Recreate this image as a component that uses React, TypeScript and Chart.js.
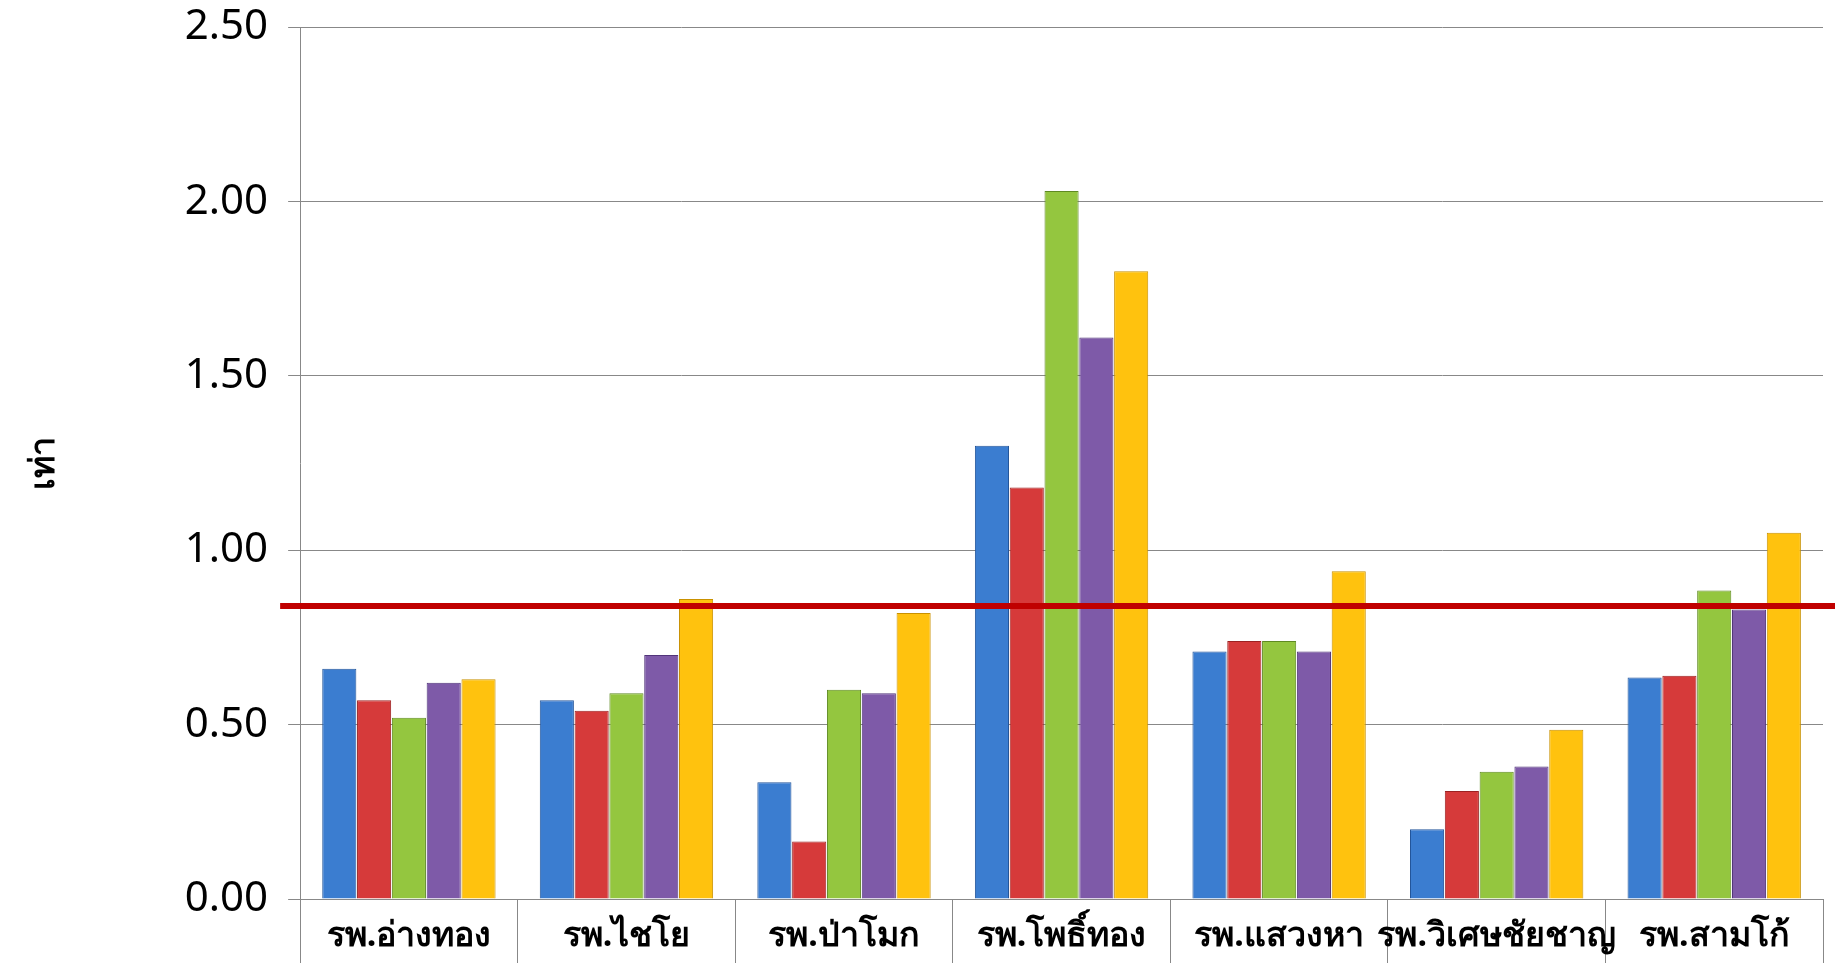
import { useEffect, useRef } from 'react';
import { Chart, registerables } from 'chart.js';

Chart.register(...registerables);

const categories = ['รพ.อ่างทอง', 'รพ.ไชโย', 'รพ.ป่าโมก', 'รพ.โพธิ์ทอง', 'รพ.แสวงหา', 'รพ.วิเศษชัยชาญ', 'รพ.สามโก้'];
const series1 = [0.66, 0.57, 0.335, 1.3, 0.71, 0.2, 0.635];
const series2 = [0.57, 0.54, 0.165, 1.18, 0.74, 0.31, 0.64];
const series3 = [0.52, 0.59, 0.6, 2.03, 0.74, 0.365, 0.885];
const series4 = [0.62, 0.7, 0.59, 1.61, 0.71, 0.38, 0.83];
const series5 = [0.63, 0.86, 0.82, 1.8, 0.94, 0.485, 1.05];
const targetLine = 0.84;

const colors = ['#3b7dd0', '#d63a3a', '#94c63f', '#7e5aa8', '#ffc20e'];
const borders = ['#24569a', '#9c2222', '#5f8a22', '#52357a', '#c99100'];

const FONT = '"Noto Sans", "DejaVu Sans", sans-serif';
const SHIFT = 18;

const refLine = {
  id: 'refLine',
  afterDatasetsDraw(chart: any) {
    const y = chart.scales.y.getPixelForValue(targetLine);
    const ctx = chart.ctx;
    ctx.save();
    ctx.strokeStyle = '#c00000';
    ctx.lineWidth = 6;
    ctx.beginPath();
    ctx.moveTo(chart.chartArea.left - 20, y);
    ctx.lineTo(chart.width, y);
    ctx.stroke();
    ctx.restore();
  },
};

// category labels sit in the strip under the axis, clipped by the page edge
const catLabels = {
  id: 'catLabels',
  afterDraw(chart: any) {
    const x = chart.scales.x;
    const ctx = chart.ctx;
    ctx.save();
    ctx.fillStyle = '#000';
    ctx.font = `bold 34px ${FONT}`;
    ctx.textAlign = 'center';
    ctx.textBaseline = 'top';
    categories.forEach((c, i) => {
      ctx.fillText(c, x.getPixelForValue(i), chart.chartArea.bottom + 20);
    });
    ctx.restore();
  },
};

export default function App() {
  const ref = useRef<HTMLCanvasElement>(null);

  useEffect(() => {
    document.body.style.margin = '0';
    document.body.style.overflow = 'hidden';
    const data = [series1, series2, series3, series4, series5];
    const chart = new Chart(ref.current!, {
      type: 'bar',
      data: {
        labels: categories,
        datasets: data.map((d, i) => ({
          label: 'S' + (i + 1),
          data: d,
          backgroundColor: colors[i],
          borderColor: borders[i],
          borderWidth: 1,
          categoryPercentage: 0.8,
          barPercentage: 0.98,
        })),
      },
      options: {
        animation: false,
        responsive: false,
        layout: { padding: { top: 0, right: 12, left: 20, bottom: 0 } },
        plugins: { legend: { display: false }, tooltip: { enabled: false } },
        scales: {
          x: {
            grid: { drawOnChartArea: false, tickLength: 64, color: '#888', offset: true },
            border: { color: '#888' },
            ticks: { display: false },
          },
          y: {
            min: 0,
            max: 2.5,
            grid: { color: '#888', tickLength: 12 },
            border: { color: '#888' },
            ticks: {
              stepSize: 0.5,
              color: '#000',
              padding: 20,
              font: { family: FONT, size: 42 },
              callback: (v: any) => Number(v).toFixed(2),
            },
            title: {
              display: true,
              text: 'เท่า',
              color: '#000',
              font: { family: FONT, size: 34, weight: 'bold' },
              padding: { bottom: 100 },
            },
          },
        },
      },
      plugins: [refLine, catLabels],
    });
    return () => chart.destroy();
  }, []);

  return (
    <canvas
      ref={ref}
      width={1835}
      height={963 + SHIFT}
      style={{ display: 'block', marginTop: -SHIFT }}
    />
  );
}
